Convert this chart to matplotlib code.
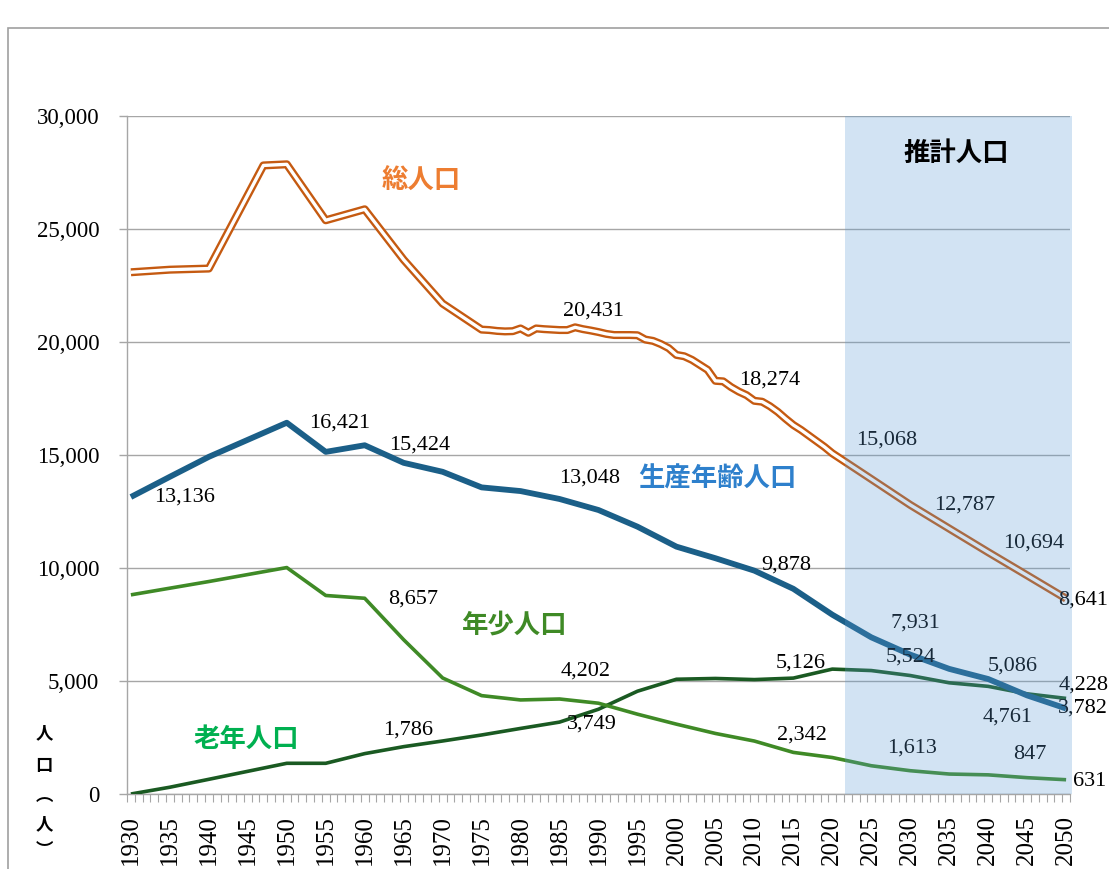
import matplotlib
matplotlib.use('Agg')
import matplotlib.pyplot as plt
from matplotlib.patches import Rectangle
from matplotlib.ticker import FuncFormatter

# ---------------- data ----------------
years_total = ([1930, 1935, 1940, 1947, 1950, 1955, 1960, 1965, 1970]
               + list(range(1975, 2021))
               + [2025, 2030, 2035, 2040, 2045, 2050])
total = [23076, 23190, 23240, 27800, 27850, 25375, 25860, 23630, 21690,
         # 1975-2020 yearly
         20540, 20520, 20480, 20460, 20470, 20590, 20400, 20590, 20560, 20540,
         20520, 20520, 20640, 20560, 20500, 20431, 20350, 20300, 20300, 20300,
         20290, 20100, 20040, 19900, 19720, 19420, 19360, 19200, 18980, 18760,
         18274, 18250, 18000, 17800, 17640, 17390, 17350, 17150, 16900, 16600,
         16320, 16100, 15850, 15600, 15350, 15068,
         # projection
         13930, 12787, 11740, 10694, 9670, 8641]

years_5 = [1930, 1935, 1940, 1950, 1955, 1960, 1965, 1970, 1975, 1980, 1985,
           1990, 1995, 2000, 2005, 2010, 2015, 2020, 2025, 2030, 2035, 2040,
           2045, 2050]
working = [13136, 14030, 14912, 16421, 15132, 15424, 14647, 14250, 13561, 13398,
           13048, 12560, 11823, 10940, 10428, 9878, 9075, 7931, 6930, 6165,
           5534, 5086, 4360, 3782]
young = [8808, 9103, 9397, 10015, 8780, 8657, 6823, 5132, 4351, 4160, 4202,
         4015, 3530, 3089, 2678, 2342, 1840, 1613, 1250, 1030, 883, 847, 722, 631]
old = [0, 300, 650, 1358, 1358, 1786, 2094, 2345, 2610, 2900, 3180, 3749, 4546,
       5075, 5110, 5060, 5126, 5524, 5460, 5240, 4918, 4761, 4430, 4228]

x_labels = list(range(1930, 2051, 5))
y_ticks = [0, 5000, 10000, 15000, 20000, 25000, 30000]
proj_start, proj_end = 2021.6, 2050.8

# data labels: (text, x, y)  -- label positions
total_labels = [("20,431", 1989.4, 21363), ("18,274", 2012.0, 18311),
                ("15,068", 2027.0, 15657), ("12,787", 2037.0, 12782),
                ("10,694", 2045.9, 11102), ("8,641", 2052.2, 8581)]
working_labels = [("13,136", 1936.9, 13136), ("16,421", 1956.8, 16409),
                  ("15,424", 1967.0, 15436), ("13,048", 1988.9, 13963),
                  ("9,878", 2014.1, 10129), ("7,931", 2030.7, 7550),
                  ("5,086", 2043.1, 5661), ("3,782", 2052.2, 3790)]
young_labels = [("8,657", 1966.2, 8625), ("4,202", 1988.4, 5454),
                ("2,342", 2016.1, 2610), ("1,613", 2030.2, 2021),
                ("847", 2045.4, 1725), ("631", 2053.0, 544)]
old_labels = [("1,786", 1965.6, 2831), ("3,749", 1989.1, 3096),
              ("5,126", 2016.0, 5781), ("5,524", 2030.1, 6046),
              ("4,761", 2042.5, 3419), ("4,228", 2052.2, 4821)]

# ---------------- style ----------------
SERIF = 'Liberation Serif'
JP = ['Noto Sans CJK JP', 'DejaVu Sans']
C_TOTAL = '#C55A11'
C_WORK = '#1B5F88'
C_YOUNG = '#3F8A26'
C_OLD = '#1A5A22'
GRID = '#A6A6A6'

W, H = 1109, 869
fig = plt.figure(figsize=(W / 100, H / 100), dpi=100)
fig.patch.set_facecolor('white')
ax = fig.add_axes([127 / W, (H - 794) / H, 943 / W, (794 - 115.7) / H])

ax.set_xlim(1929.5, 2050.5)
ax.set_ylim(0, 30000)

# grid
ax.set_yticks(y_ticks)
ax.yaxis.set_major_formatter(FuncFormatter(lambda v, p: f"{int(v):,}"))
ax.grid(axis='y', color=GRID, lw=1.0, zorder=0)
ax.set_axisbelow(True)

for s in ['top', 'right']:
    ax.spines[s].set_visible(False)
for s in ['left', 'bottom']:
    ax.spines[s].set_color(GRID)
    ax.spines[s].set_linewidth(1.0)

ax.tick_params(axis='y', which='major', direction='out', length=6, width=1.0,
               color=GRID, pad=14, labelsize=16.5)
ax.set_xticks(x_labels)
ax.set_xticklabels([str(y) for y in x_labels], rotation=90)
ax.set_xticks([1929.5 + i for i in range(0, 122)], minor=True)
ax.tick_params(axis='x', which='major', length=0, pad=15, labelsize=18)
ax.tick_params(axis='x', which='minor', direction='out', length=6, width=0.8,
               color=GRID)
for lab in ax.get_xticklabels() + ax.get_yticklabels():
    lab.set_fontfamily(SERIF)

# lines
ax.plot(years_5, old, color=C_OLD, lw=2.6, solid_joinstyle='round',
        solid_capstyle='butt', zorder=3)
ax.plot(years_5, young, color=C_YOUNG, lw=2.6, solid_joinstyle='round',
        solid_capstyle='butt', zorder=3)
ax.plot(years_5, working, color=C_WORK, lw=4.2, solid_joinstyle='round',
        solid_capstyle='butt', zorder=4)
ax.plot(years_total, total, color=C_TOTAL, lw=5.8, solid_joinstyle='round',
        solid_capstyle='butt', zorder=5)
ax.plot(years_total, total, color='white', lw=2.4, solid_joinstyle='round',
        solid_capstyle='butt', zorder=5.1)

# data labels
for group in (total_labels, working_labels, young_labels, old_labels):
    for txt, xx, yy in group:
        ax.text(xx, yy, txt, ha='center', va='center', fontsize=16,
                family=SERIF, color='black', zorder=6, clip_on=False)

# series names
ax.text(1967.2, 27082, '総人口', color='#ED7D31', fontsize=19, weight='bold',
        family=JP, ha='center', va='center', zorder=6)
ax.text(2005.3, 13919, '生産年齢人口', color='#2E80CC', fontsize=19,
        weight='bold', family=JP, ha='center', va='center', zorder=6)
ax.text(1979.2, 7475, '年少人口', color='#3F8A26', fontsize=19, weight='bold',
        family=JP, ha='center', va='center', zorder=6)
ax.text(1944.8, 2419, '老年人口', color='#00B050', fontsize=19, weight='bold',
        family=JP, ha='center', va='center', zorder=6)

# projection shading (semi-transparent overlay)
rect = Rectangle((proj_start, 0), proj_end - proj_start, 30000,
                 facecolor='#5B9BD5', alpha=0.27, edgecolor='none',
                 zorder=7, clip_on=False)
ax.add_patch(rect)
ax.text(2035.9, 28351, '推計人口', color='black', fontsize=19, weight='bold',
        family=JP, ha='center', va='center', zorder=8)

# vertical axis title (stacked characters)
ylab_chars = ['人', '口', '︵', '人', '︶']
ylab_pos = [733, 766, 797, 824, 850]
for ch, py in zip(ylab_chars, ylab_pos):
    fig.text(44 / W, 1 - py / H, ch, fontsize=12.5, weight='bold', family=JP,
             ha='center', va='center')

# chart-area border
fig.add_artist(Rectangle((8 / W, -0.2), 2.0, 0.2 + (H - 28) / H,
                         transform=fig.transFigure, fill=False,
                         edgecolor='#A0A0A0', lw=1.2))

fig.savefig('out.png', dpi=100)
